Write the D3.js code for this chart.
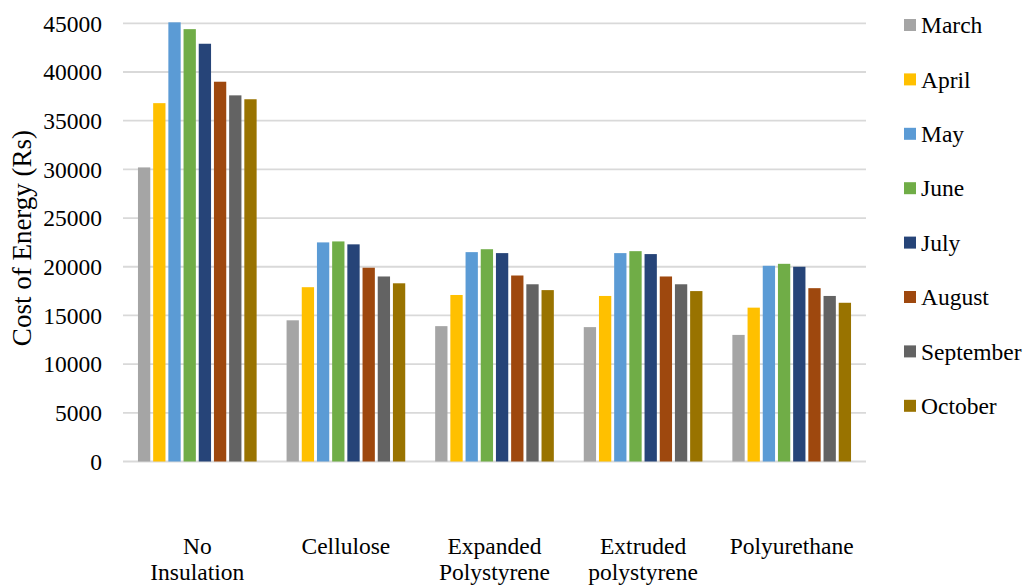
<!DOCTYPE html>
<html>
<head>
<meta charset="utf-8">
<script src="https://cdn.jsdelivr.net/npm/d3@7"></script>
<style>
  html, body { margin: 0; padding: 0; background: #fff; }
  svg text { font-family: "Liberation Serif", "Times New Roman", serif; fill: #000; }
</style>
</head>
<body>
<svg id="chart" width="1027" height="585"></svg>
<script>
// Monthly energy cost for each insulation option
const categories = ["No Insulation", "Cellulose", "Expanded Polystyrene", "Extruded polystyrene", "Polyurethane"];
const months = ["March", "April", "May", "June", "July", "August", "September", "October"];
const colors = ["#A5A5A5", "#FFC000", "#5B9BD5", "#70AD47", "#264478", "#9E480E", "#636363", "#997300"];

// one array per month, values in category order
const march     = [30200, 14500, 13900, 13800, 13000];
const april     = [36800, 17900, 17100, 17000, 15800];
const may       = [45100, 22500, 21500, 21400, 20100];
const june      = [44400, 22600, 21800, 21600, 20300];
const july      = [42900, 22300, 21400, 21300, 20000];
const august    = [39000, 19900, 19100, 19000, 17800];
const september = [37600, 19000, 18200, 18200, 17000];
const october   = [37200, 18300, 17600, 17500, 16300];
const series = [march, april, may, june, july, august, september, october];

const yTicks = [0, 5000, 10000, 15000, 20000, 25000, 30000, 35000, 40000, 45000];
const yTitle = "Cost of Energy (Rs)";

const svg = d3.select("#chart");
const plot = { left: 123, right: 866, top: 23.3, bottom: 461.5 };
const fontSize = 23.5;

const y = d3.scaleLinear().domain([0, 45000]).range([plot.bottom, plot.top]);
const x0 = d3.scaleBand().domain(categories).range([plot.left, plot.right])
  .paddingInner(0.182).paddingOuter(0.091);
const x1 = d3.scaleBand().domain(months).range([0, x0.bandwidth()]).paddingInner(0.19).paddingOuter(0.095);

// gridlines (including the baseline)
svg.append("g").selectAll("line").data(yTicks).join("line")
  .attr("x1", plot.left).attr("x2", plot.right)
  .attr("y1", d => y(d)).attr("y2", d => y(d))
  .attr("stroke", "#D9D9D9").attr("stroke-width", 1.8);

// y tick labels
svg.append("g").selectAll("text").data(yTicks).join("text")
  .attr("x", 102).attr("y", d => y(d)).attr("dy", "0.35em")
  .attr("text-anchor", "end").attr("font-size", fontSize)
  .text(d => d);

// y axis title
svg.append("text")
  .attr("transform", `translate(31,238) rotate(-90)`)
  .attr("text-anchor", "middle").attr("font-size", 27)
  .text(yTitle);

// bars
const groups = svg.append("g").selectAll("g").data(categories).join("g")
  .attr("transform", d => `translate(${x0(d)},0)`);
groups.selectAll("rect")
  .data((c, ci) => months.map((m, mi) => ({ m, mi, v: series[mi][ci] })))
  .join("rect")
  .attr("x", d => x1(d.m)).attr("width", x1.bandwidth())
  .attr("y", d => y(d.v)).attr("height", d => y(0) - y(d.v))
  .attr("fill", d => colors[d.mi]);

// category labels, wrapped on spaces
const catLabels = svg.append("g").selectAll("text").data(categories).join("text")
  .attr("text-anchor", "middle").attr("font-size", fontSize)
  .attr("x", d => x0(d) + x0.bandwidth() / 2).attr("y", 554);
catLabels.each(function (d) {
  const words = d.split(" ");
  const t = d3.select(this);
  words.forEach((w, i) => {
    t.append("tspan").attr("x", x0(d) + x0.bandwidth() / 2).attr("dy", i === 0 ? 0 : 26).text(w);
  });
});

// legend
const legend = svg.append("g").selectAll("g").data(months).join("g")
  .attr("transform", (d, i) => `translate(904,${25 + i * 54.4})`);
legend.append("rect").attr("x", 0).attr("y", -6).attr("width", 12).attr("height", 12)
  .attr("fill", (d, i) => colors[i]);
legend.append("text").attr("x", 17).attr("dy", "0.35em").attr("font-size", fontSize).text(d => d);
</script>
</body>
</html>
